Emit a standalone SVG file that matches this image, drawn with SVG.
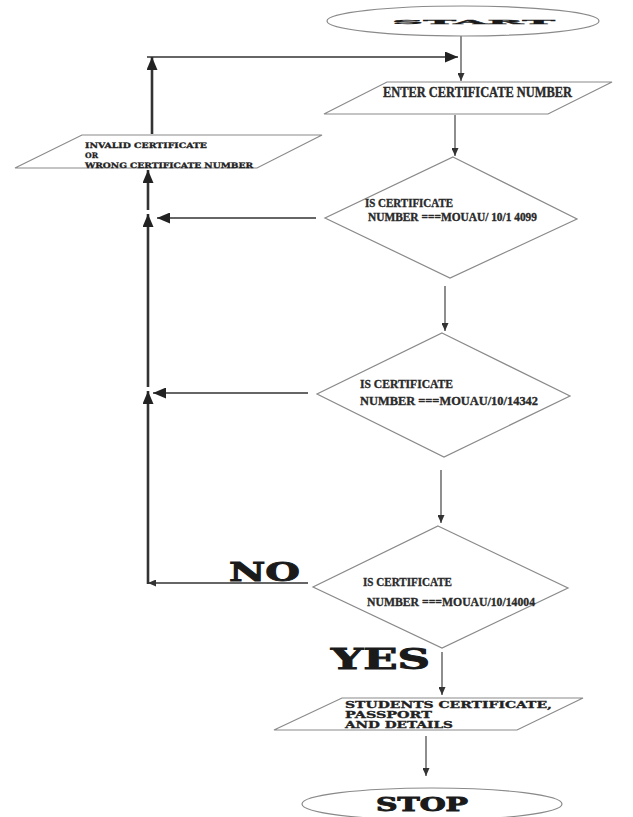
<svg xmlns="http://www.w3.org/2000/svg" width="633" height="817" viewBox="0 0 633 817">
<style>
.shape{fill:#fff;stroke:#8a8a8a;stroke-width:1.2}
.thin{fill:none;stroke:#444;stroke-width:1.2}
.mid{fill:none;stroke:#333;stroke-width:1.6}
.thick{fill:none;stroke:#333;stroke-width:2.6}
.cond{font-family:"Liberation Serif",serif;font-weight:bold;fill:#2a2a2a;stroke:#2a2a2a;stroke-width:0.35}
.heavy{font-family:"DejaVu Serif",serif;font-weight:bold;fill:#222;stroke:#222;stroke-width:0.3}
.big{font-family:"DejaVu Serif",serif;font-weight:bold;fill:#1a1a1a;stroke:#1a1a1a;stroke-width:0.9}
</style>
<defs>
<marker id="sa" markerUnits="userSpaceOnUse" markerWidth="8" markerHeight="7" refX="8" refY="3.5" orient="auto"><path d="M0,0 L8,3.5 L0,7 z" fill="#333"/></marker>
<marker id="ba" markerUnits="userSpaceOnUse" markerWidth="13" markerHeight="11" refX="13" refY="5.5" orient="auto"><path d="M0,0 L13,5.5 L0,11 z" fill="#222"/></marker>
</defs>
<rect width="633" height="817" fill="#fff"/>
<g id="connectors">
<line class="thin" x1="461" y1="36" x2="461" y2="81" marker-end="url(#sa)"/>
<line class="mid" x1="147" y1="57" x2="458" y2="57" marker-end="url(#ba)"/>
<line class="thick" x1="152" y1="134" x2="152" y2="57" marker-end="url(#ba)"/>
<line class="thin" x1="455" y1="115" x2="455" y2="156" marker-end="url(#sa)"/>
<line class="thick" x1="148" y1="210" x2="148" y2="170" marker-end="url(#ba)"/>
<line class="mid" x1="316" y1="218" x2="157" y2="218" marker-end="url(#ba)"/>
<line class="thick" x1="148" y1="387" x2="148" y2="214" marker-end="url(#ba)"/>
<line class="thin" x1="445" y1="286" x2="445" y2="331" marker-end="url(#sa)"/>
<line class="mid" x1="308" y1="393" x2="153" y2="393" marker-end="url(#ba)"/>
<line class="thick" x1="148" y1="584" x2="148" y2="391" marker-end="url(#ba)"/>
<line class="thin" x1="441" y1="470" x2="441" y2="523" marker-end="url(#sa)"/>
<line class="mid" x1="308" y1="583" x2="148" y2="583" marker-end="url(#sa)"/>
<line class="thin" x1="442" y1="652" x2="442" y2="695" marker-end="url(#sa)"/>
<line class="thin" x1="426" y1="736" x2="426" y2="776" marker-end="url(#sa)"/>
</g>
<g id="start">
<ellipse class="shape" cx="463" cy="21" rx="136" ry="15"/>
<text class="big" x="0" y="0" font-size="20" transform="translate(392,24) scale(1,0.3)" textLength="163" lengthAdjust="spacingAndGlyphs">START</text>
</g>
<g id="enter">
<polygon class="shape" points="387,82 612,82 548,114 324,114"/>
<text class="cond" x="383" y="97" font-size="14" textLength="189" lengthAdjust="spacingAndGlyphs">ENTER CERTIFICATE NUMBER</text>
</g>
<g id="invalid">
<polygon class="shape" points="82,135 322,135 257,168 15,168"/>
<text class="heavy" font-size="7.5">
<tspan x="85" y="148" textLength="122" lengthAdjust="spacingAndGlyphs">INVALID CERTIFICATE</tspan>
<tspan x="85" y="158" textLength="13" lengthAdjust="spacingAndGlyphs">OR</tspan>
<tspan x="85" y="168" textLength="168" lengthAdjust="spacingAndGlyphs">WRONG CERTIFICATE NUMBER</tspan>
</text>
</g>
<g id="decision1">
<polygon class="shape" points="453,157 577,219 450,278 325,218"/>
<text class="cond" font-size="11.5">
<tspan x="365" y="207" textLength="88" lengthAdjust="spacingAndGlyphs">IS CERTIFICATE</tspan>
<tspan x="368" y="221" textLength="169" lengthAdjust="spacingAndGlyphs">NUMBER ===MOUAU/ 10/1 4099</tspan>
</text>
</g>
<g id="decision2">
<polygon class="shape" points="442,333 570,396 444,457 317,394"/>
<text class="cond" font-size="13">
<tspan x="360" y="388" textLength="93" lengthAdjust="spacingAndGlyphs">IS CERTIFICATE</tspan>
<tspan x="360" y="405" textLength="178" lengthAdjust="spacingAndGlyphs">NUMBER ===MOUAU/10/14342</tspan>
</text>
</g>
<g id="decision3">
<polygon class="shape" points="438,526 568,588 442,648 313,587"/>
<text class="cond" font-size="13">
<tspan x="363" y="586" textLength="89" lengthAdjust="spacingAndGlyphs">IS CERTIFICATE</tspan>
<tspan x="367" y="606" textLength="168" lengthAdjust="spacingAndGlyphs">NUMBER ===MOUAU/10/14004</tspan>
</text>
</g>
<g id="labels">
<text class="big" x="229" y="581" font-size="26" textLength="71" lengthAdjust="spacingAndGlyphs">NO</text>
<text class="big" x="331" y="669" font-size="27" textLength="99" lengthAdjust="spacingAndGlyphs">YES</text>
</g>
<g id="output">
<polygon class="shape" points="342,698 583,698 517,730 274,730"/>
<text class="heavy" font-size="8.5">
<tspan x="345" y="708" textLength="207" lengthAdjust="spacingAndGlyphs">STUDENTS CERTIFICATE,</tspan>
<tspan x="345" y="718" textLength="87" lengthAdjust="spacingAndGlyphs">PASSPORT</tspan>
<tspan x="345" y="728" textLength="108" lengthAdjust="spacingAndGlyphs">AND DETAILS</tspan>
</text>
</g>
<g id="stop">
<ellipse class="shape" cx="432" cy="804" rx="130" ry="16"/>
<text class="big" x="376" y="811" font-size="18" textLength="92" lengthAdjust="spacingAndGlyphs">STOP</text>
</g>
</svg>
